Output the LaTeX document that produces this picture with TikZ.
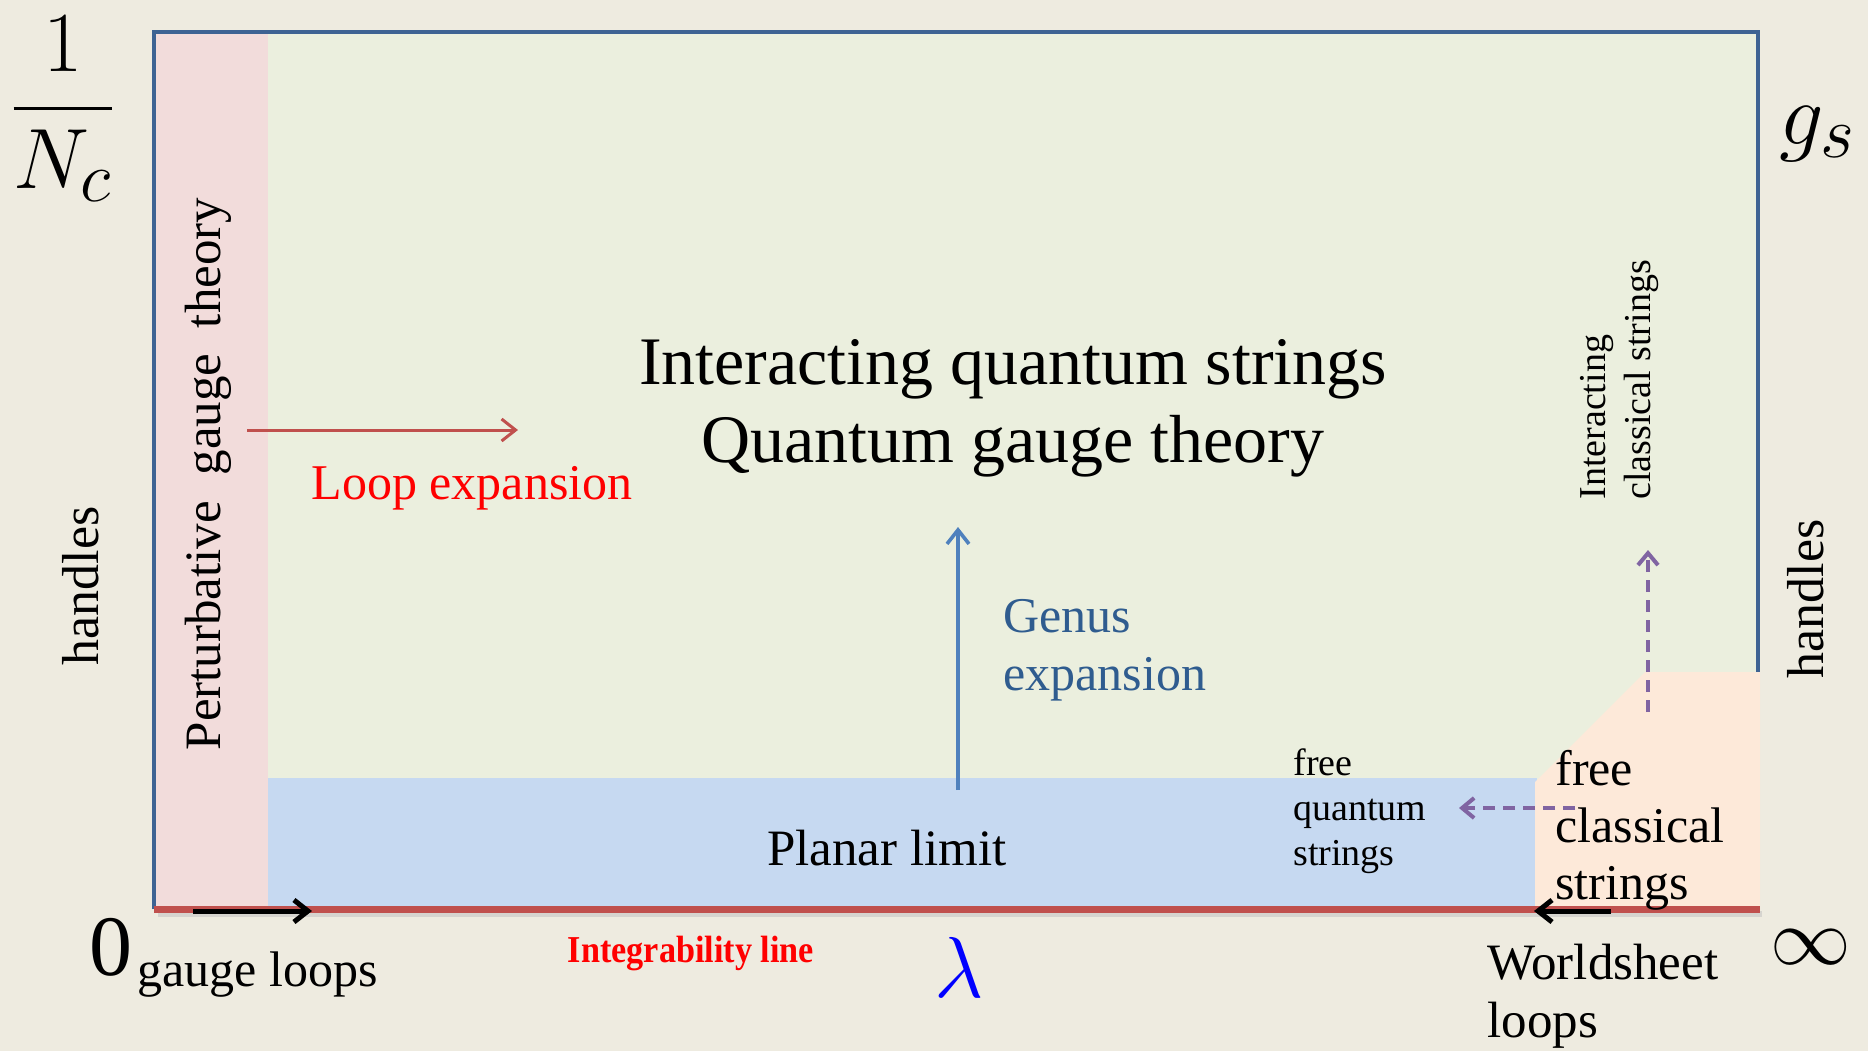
\documentclass[tikz,border=0pt]{standalone}
\usepackage{amsmath,amssymb}
\usepackage{graphicx}
\usepackage{fontspec}
\setmainfont{Liberation Serif}
\usetikzlibrary{arrows.meta,calc}
\definecolor{PhaseBeige}{HTML}{EEEBE0}
\definecolor{PhaseGreen}{HTML}{EBEFDE}
\definecolor{PhasePink}{HTML}{F2DCDB}
\definecolor{PhaseBlue}{HTML}{C6D9F1}
\definecolor{PhasePeach}{HTML}{FDE9D9}
\definecolor{PhaseFrame}{HTML}{3E6393}
\definecolor{PhaseRed}{HTML}{C0504D}
\definecolor{PhaseArrow}{HTML}{4F81BD}
\definecolor{PhaseText}{HTML}{2F5C8F}
\definecolor{PhasePurple}{HTML}{8064A2}
\newcommand{\fs}[2]{\fontsize{#1}{#2}\selectfont}
\newcommand{\bigmath}[2]{\scalebox{#1}{$#2$}}
\tikzset{
  txt/.style={inner sep=0pt,align=left,font=\fs{25}{29}},
  small/.style={txt,font=\fs{19}{22.5}},
  big/.style={inner sep=0pt,font=\fs{24.88}{30}},
  vert/.style={txt,rotate=90},
  loopflow/.style={-{Straight Barb[length=7pt,width=11pt]},line width=1.5pt,draw=PhaseRed},
  genusflow/.style={-{Straight Barb[length=7pt,width=11pt]},line width=1.8pt,draw=PhaseArrow},
  dashflow/.style={-{Straight Barb[length=6pt,width=10pt]},line width=2pt,draw=PhasePurple,
    dash pattern=on 6pt off 4pt},
  blackflow/.style={-{Straight Barb[length=7pt,width=11pt]},line width=2.5pt,draw=black}
}
\begin{document}
\begin{tikzpicture}[x=0.5pt,y=-0.5pt]
  \fill[PhaseBeige] (0,0) rectangle (1868,1051);
  \useasboundingbox (0,0) rectangle (1868,1051);
  % regions
  \fill[PhaseGreen] (154,32) rectangle (1758,909);
  \fill[PhasePink] (155,33) rectangle (268,909);
  \fill[PhaseBlue] (268,778) rectangle (1537,909);
  \draw[PhaseFrame,line width=1.7pt] (154,909) -- (154,32) -- (1758,32) -- (1758,672);
  \fill[PhasePeach] (1535,909) -- (1535,782) -- (1645,672) -- (1760,672) -- (1760,909) -- cycle;
  \draw[black!25,line width=3pt,opacity=0.5] (158,914) -- (1762,914);
  \draw[PhaseRed,line width=3.5pt] (154,909) -- (1760,909);
  % axis labels
  \node[big] (inv) at (63,109) {\bigmath{1.72}{\dfrac{1}{N_c}}};
  \node[big] (gs) at (1818,134) {\bigmath{1.77}{g_s}};
  \node[big] (inf) at (1811,947) {\bigmath{1.62}{\infty}};
  \node[inner sep=0pt,font=\fs{43}{50}] (zero) at (111,947) {0};
  \node[big,text=blue] (lam) at (959,967) {\bigmath{1.74}{\lambda}};
  \node[vert,font=\fs{26}{30}] (hl) at (81,586) {handles};
  \node[vert,font=\fs{26}{30}] (hr) at (1806,599) {handles};
  % region texts
  \node[inner sep=0pt,align=center,font=\fs{34}{39}] (main) at (1013,408)
    {Interacting quantum strings\\Quantum gauge theory};
  \node[vert,font=\fs{25.5}{29}] (pert) at (208,474) {Perturbative\hspace{0.5em}gauge\hspace{0.5em}theory};
  \node[txt,font=\fs{25.5}{29}] (planar) at (887,848) {Planar limit};
  \node[txt,text=red] (loop) at (472,488) {Loop expansion};
  \node[txt,text=PhaseText,anchor=west] (genus) at (1003,650) {Genus\\expansion};
  \node[small,anchor=west] (fq) at (1293,811) {free\\quantum\\strings};
  \node[txt,font=\fs{25}{28.5},anchor=west] (fc) at (1555,830) {free\\classical\\strings};
  \node[small,rotate=90,anchor=west] (ic) at (1619,500) {Interacting\\classical strings};
  \node[txt,anchor=west] (gl) at (137,975) {gauge loops};
  \node[txt,anchor=west,font=\fs{25.5}{29}] (ws) at (1487,996) {Worldsheet\\loops};
  \node[inner sep=0pt,text=red,font=\fs{19}{22}\bfseries] (integ) at (691,953)
    {\scalebox{0.9}[1]{Integrability line}};
  % arrows
  \coordinate (l0) at (247,430); \coordinate (l1) at (518,430);
  \coordinate (g0) at (958,790); \coordinate (g1) at (958,527);
  \coordinate (v0) at (1648,712); \coordinate (v1) at (1648,550);
  \coordinate (h0) at (1575,808); \coordinate (h1) at (1459,808);
  \coordinate (a0) at (193,911); \coordinate (a1) at (312,911);
  \coordinate (b0) at (1611,911); \coordinate (b1) at (1534,911);
  \draw[loopflow] (l0) -- (l1);
  \draw[genusflow] (g0) -- (g1);
  \draw[dashflow] (v0) -- (v1);
  \draw[dashflow] (h0) -- (h1);
  \draw[blackflow] (a0) -- (a1);
  \draw[blackflow] (b0) -- (b1);
\end{tikzpicture}
\end{document}
